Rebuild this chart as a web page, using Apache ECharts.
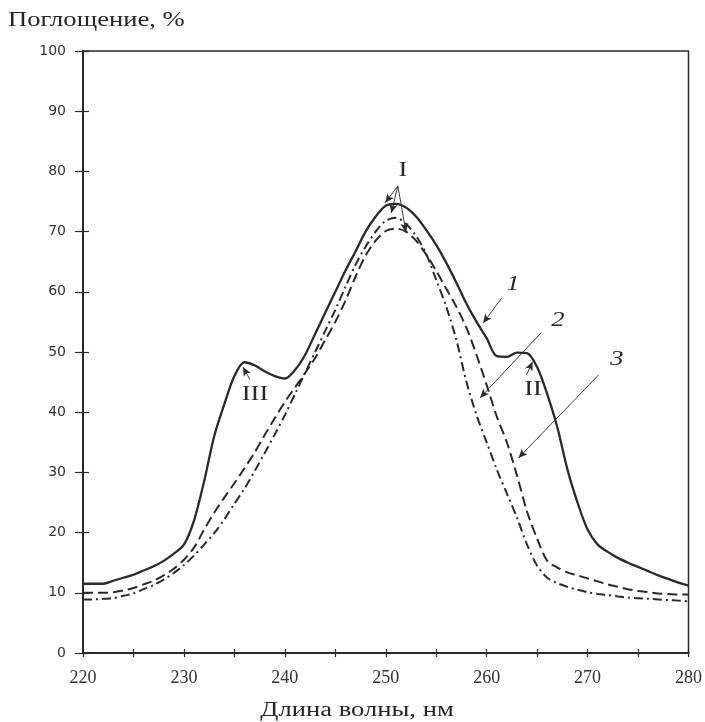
<!DOCTYPE html>
<html><head><meta charset="utf-8">
<script src="https://cdn.jsdelivr.net/npm/echarts@6/dist/echarts.min.js"></script>
<style>html,body{margin:0;padding:0;background:#fff;overflow:hidden}#c{width:705px;height:722px}</style>
</head><body><div id="c"></div>
<script>
const wavelengths = [220,221,222,223,224,225,226,227,228,229,230,231,232,233,234,235,236,237,238,239,240,241,242,243,244,245,246,247,248,249,250,251,252,253,254,255,256,257,258,259,260,261,262,263,264,265,266,267,268,269,270,271,272,273,274,275,276,277,278,279,280];
const curve1 = [11.5,11.5,11.5,12,12.5,13,13.7,14.4,15.3,16.5,18,22,28.5,36,41.3,46,48.3,47.8,46.8,46,45.6,47,49.5,53,56.5,60,63.5,66.7,70,72.5,74.3,74.6,74,72.5,70.3,67.8,64.8,61.5,58,55,52.3,49.3,49.2,49.9,49.8,47.5,43,37.5,30.5,25,20.5,18,16.8,15.8,15,14.3,13.6,12.9,12.3,11.7,11.2];
const curve2 = [8.9,8.9,9.0,9.1,9.5,9.9,10.6,11.3,12.2,13.3,14.6,16.2,18,19.9,22.2,24.8,27.3,30.2,33.2,36.3,39.5,43,46.5,50,53.5,57,60.8,64.5,67.5,70,71.8,72.3,71.3,69.3,66.3,62,57.5,52,45,39.5,35,30.5,26.5,22.5,18,14.5,12.5,11.6,11,10.5,10.1,9.8,9.6,9.4,9.2,9.1,9.0,8.9,8.8,8.7,8.6];
const curve3 = [10,10,10,10.1,10.4,10.8,11.4,12,12.9,14,15.5,17.5,20.5,23.3,25.8,28.2,30.7,33.3,36.2,39,41.7,44.1,46.5,49,52,55,58.5,62.5,66,68.5,70.1,70.5,70,68.5,66.2,63.5,60.5,57.5,54,49.5,44.5,39.3,35,29.5,23.5,19,15.3,14.2,13.4,12.9,12.4,11.9,11.4,11,10.6,10.3,10.1,9.9,9.8,9.7,9.7];
const xTicks = [220,230,240,250,260,270,280];
const yTicks = [0,10,20,30,40,50,60,70,80,90,100];
const arrowStarts = [[251.2,77.6],[251.2,77.6],[251.2,77.6],[261.5,59.0],[265.4,53.2],[271.1,46.2],[263.95,46.2],[236.55,45.4]];
const arrowEnds   = [[249.95,74.8],[250.55,73.1],[252.0,69.9],[259.65,54.8],[259.35,42.4],[263.15,32.4],[264.55,48.4],[235.85,47.5]];

const ink = '#2a2a2a';
const serif = '"Liberation Serif", "DejaVu Serif", serif';
const sans = '"DejaVu Sans", sans-serif';
const pairs = arr => wavelengths.map((w, i) => [w, arr[i]]);

const lineSeries = (name, data, type) => ({
  name, type: 'line', data: pairs(data), smooth: 0.3, showSymbol: false,
  lineStyle: { color: ink, width: type === 'solid' ? 2.3 : 2, type },
  z: 3
});

const baseX = {
  type: 'value', min: 220, max: 280, interval: 5, position: 'bottom',
  axisLine: { lineStyle: { color: ink, width: 2 } },
  splitLine: { show: false }
};
const baseY = {
  type: 'value', min: 0, max: 100, interval: 10, position: 'left',
  axisLine: { lineStyle: { color: ink, width: 2 } },
  splitLine: { show: false }
};

const label = (txt, x, y, size, italic, align) => ({
  type: 'text', x, y, scaleX: 1.33, z: 10,
  style: { text: txt, font: (italic ? 'italic ' : '') + size + 'px ' + serif, fill: '#262626',
           textAlign: align || 'center', textVerticalAlign: 'middle' }
});

const chart = echarts.init(document.getElementById('c'));
chart.setOption({
  backgroundColor: '#fff',
  animation: false,
  grid: { left: 83, right: 9, top: 51, bottom: 69, show: true, borderColor: ink, borderWidth: 1.5 },
  xAxis: [
    Object.assign({}, baseX, {
      axisTick: { length: 4, lineStyle: { color: ink, width: 1.2 } },
      axisLabel: { margin: 16, color: '#333', fontFamily: serif, fontSize: 18,
        formatter: v => xTicks.includes(v) ? String(v) : '' }
    }),
    Object.assign({}, baseX, {
      axisTick: { inside: true, length: 4, lineStyle: { color: ink, width: 1.2 } },
      axisLabel: { show: false }
    })
  ],
  yAxis: [
    Object.assign({}, baseY, {
      axisTick: { length: 8, lineStyle: { color: ink, width: 1.2 } },
      axisLabel: { margin: 17, color: '#333', fontFamily: sans, fontSize: 14,
        formatter: v => yTicks.includes(v) ? String(v) : '' }
    }),
    Object.assign({}, baseY, {
      axisTick: { inside: true, length: 6, lineStyle: { color: ink, width: 1.2 } },
      axisLabel: { show: false }
    })
  ],
  series: [
    lineSeries('1', curve1, 'solid'),
    lineSeries('2', curve2, [9, 4, 2, 4]),
    lineSeries('3', curve3, [10, 5]),
    {
      type: 'line', data: [], silent: true,
      markLine: {
        silent: true, animation: false,
        symbol: ['none', 'arrow'], symbolSize: [6, 9],
        lineStyle: { color: ink, width: 0.9, type: 'solid' },
        label: { show: false },
        data: arrowStarts.map((s, i) => [{ coord: s }, { coord: arrowEnds[i] }])
      }
    }
  ],
  graphic: [
    label('Поглощение, %', 8, 21, 20, false, 'left'),
    label('Длина волны, нм', 357, 711, 20, false, 'center'),
    label('I', 403, 171, 20, false),
    label('1', 513, 285, 20, true),
    label('2', 558, 321, 20, true),
    label('3', 617, 360, 20, true),
    label('II', 533, 390, 20, false),
    label('III', 255, 395, 20, false)
  ]
});
</script></body></html>
